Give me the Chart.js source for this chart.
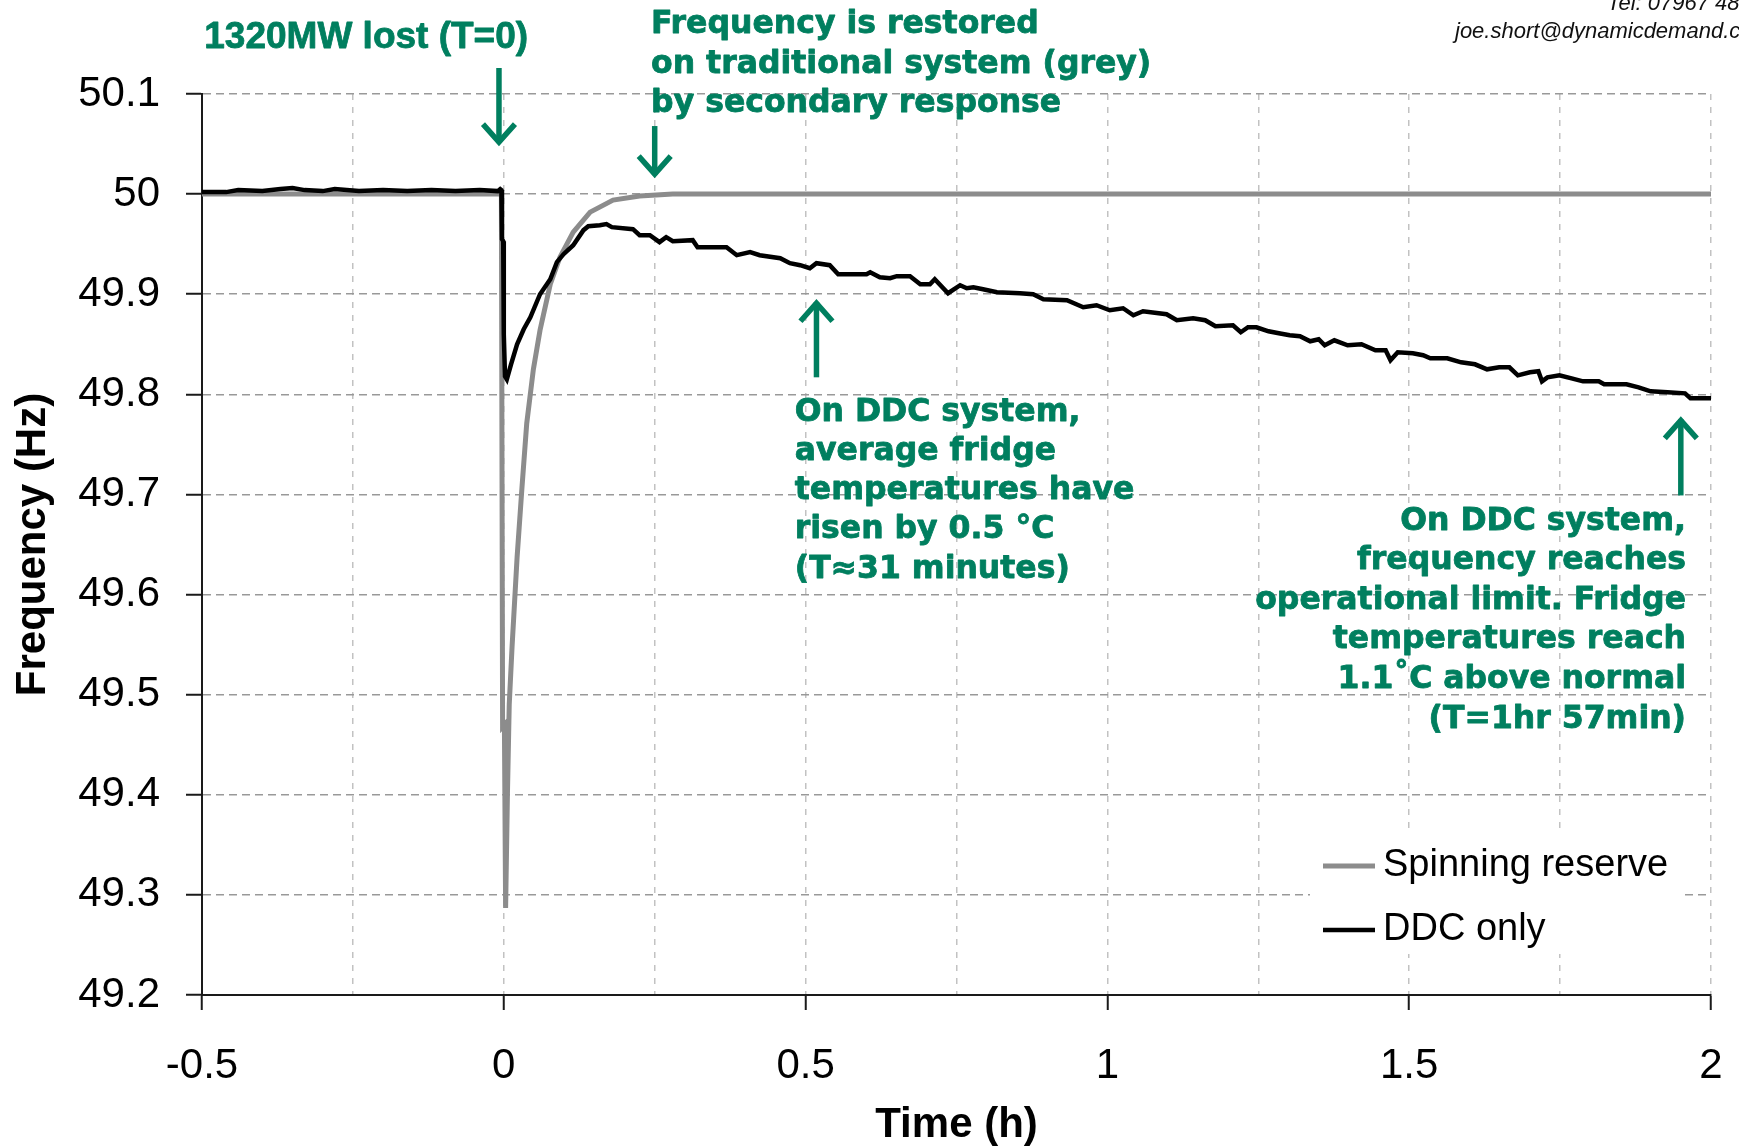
<!DOCTYPE html>
<html>
<head>
<meta charset="utf-8">
<title>Frequency after 1320MW loss</title>
<script src="https://cdn.jsdelivr.net/npm/chart.js"></script>
<style>
  html, body { margin: 0; padding: 0; background: #ffffff; }
  #freq-chart { display: block; }
</style>
</head>
<body>
<canvas id="freq-chart" width="1739" height="1146"></canvas>
<script>
// Spinning reserve (grey): time in hours, frequency in Hz
const spinTimes = [-0.5, -0.004, -0.002, 0.001, 0.003, 0.006, 0.009, 0.0137, 0.022, 0.030, 0.038,
  0.049, 0.060, 0.077, 0.093, 0.115, 0.143, 0.181, 0.225, 0.280, 2.0];
const spinFreq = [50.000, 50.000, 49.468, 49.470, 49.287, 49.400, 49.490, 49.548, 49.637, 49.706, 49.771,
  49.825, 49.864, 49.910, 49.937, 49.962, 49.982, 49.994, 49.998, 50.000, 50.000];

// DDC only (black)
const ddcTimes = [-0.5, -0.46, -0.44, -0.40, -0.37, -0.35, -0.33, -0.30, -0.28, -0.24, -0.20, -0.16,
  -0.12, -0.08, -0.04, -0.01, -0.006, -0.004, -0.003, -0.001, 0.000, 0.002, 0.005, 0.012, 0.022,
  0.033, 0.044, 0.060, 0.077, 0.088, 0.099, 0.115, 0.132, 0.140, 0.159, 0.170, 0.179, 0.214, 0.225,
  0.242, 0.258, 0.269, 0.280, 0.313, 0.321, 0.369, 0.386, 0.408, 0.424, 0.458, 0.474, 0.491, 0.507,
  0.518, 0.540, 0.554, 0.601, 0.607, 0.623, 0.640, 0.651, 0.673, 0.690, 0.706, 0.714, 0.736, 0.756,
  0.767, 0.778, 0.794, 0.817, 0.855, 0.877, 0.894, 0.933, 0.960, 0.982, 1.004, 1.026, 1.043, 1.059,
  1.098, 1.115, 1.142, 1.162, 1.179, 1.208, 1.221, 1.233, 1.247, 1.267, 1.284, 1.302, 1.319, 1.336,
  1.350, 1.360, 1.376, 1.398, 1.421, 1.444, 1.461, 1.469, 1.481, 1.506, 1.523, 1.535, 1.563, 1.586,
  1.609, 1.629, 1.649, 1.666, 1.680, 1.700, 1.714, 1.720, 1.729, 1.749, 1.769, 1.788, 1.814, 1.823,
  1.860, 1.880, 1.900, 1.928, 1.957, 1.966, 2.000];
const ddcFreq = [50.002, 50.002, 50.004, 50.003, 50.005, 50.006, 50.004, 50.003, 50.005, 50.003, 50.004, 50.003,
  50.004, 50.003, 50.004, 50.003, 50.005, 50.004, 49.955, 49.953, 49.860, 49.818, 49.815, 49.830, 49.850,
  49.865, 49.877, 49.900, 49.915, 49.932, 49.940, 49.949, 49.964, 49.968, 49.969, 49.970, 49.967, 49.965, 49.959,
  49.959, 49.952, 49.957, 49.953, 49.954, 49.947, 49.947, 49.939, 49.942, 49.939, 49.936, 49.931, 49.929, 49.926,
  49.931, 49.929, 49.920, 49.920, 49.922, 49.917, 49.916, 49.918, 49.918, 49.910, 49.910, 49.915, 49.901, 49.909,
  49.906, 49.907, 49.905, 49.902, 49.901, 49.900, 49.895, 49.894, 49.887, 49.889, 49.884, 49.886, 49.879, 49.883,
  49.880, 49.874, 49.876, 49.874, 49.868, 49.869, 49.862, 49.867, 49.867, 49.863, 49.861, 49.859, 49.858, 49.853,
  49.855, 49.849, 49.854, 49.849, 49.850, 49.844, 49.844, 49.834, 49.842, 49.841, 49.839, 49.836, 49.836, 49.832,
  49.830, 49.825, 49.827, 49.827, 49.819, 49.822, 49.823, 49.813, 49.817, 49.819, 49.816, 49.813, 49.813, 49.810,
  49.810, 49.807, 49.803, 49.802, 49.801, 49.796, 49.796];

// axis ticks
const xMajorTicks = [-0.5, 0, 0.5, 1, 1.5, 2];
const yTickValues = [49.2, 49.3, 49.4, 49.5, 49.6, 49.7, 49.8, 49.9, 50, 50.1];

const GREEN = '#007f5f';
const NOTE_FONT = 'bold 31.5px "DejaVu Sans"';

// callouts, anchored in data units (t = hours, f = Hz)
const noteBlocks = [
  { t: -0.228, f: 50.156, align: 'center', font: 'bold 37px "Liberation Sans"', lineHeight: 0,
    lines: ['1320MW lost (T=0)'] },
  { t: 0.244, f: 50.169, align: 'left', font: NOTE_FONT, lineHeight: 39.5,
    lines: ['Frequency is restored', 'on traditional system (grey)', 'by secondary response'] },
  { t: 0.482, f: 49.782, align: 'left', font: NOTE_FONT, lineHeight: 39.3,
    lines: ['On DDC system,', 'average fridge', 'temperatures have', 'risen by 0.5 \u00B0C', '(T\u224831 minutes)'] },
  { t: 1.9586, f: 49.673, align: 'right', font: NOTE_FONT, lineHeight: 39.6,
    lines: ['On DDC system,', 'frequency reaches', 'operational limit. Fridge', 'temperatures reach',
      '1.1\u02DAC above normal', '(T=1hr 57min)'] }
];

const arrowMarks = [
  { t: -0.008, from: 50.126, to: 50.049 },
  { t: 0.25, from: 50.068, to: 50.017 },
  { t: 0.518, from: 49.817, to: 49.894 },
  { t: 1.950, from: 49.699, to: 49.777 }
];

const toPoints = (xs, ys) => xs.map((x, i) => ({ x, y: ys[i] }));
const isMajor = v => xMajorTicks.some(m => Math.abs(m - v) < 1e-6);

const notesPlugin = {
  id: 'notes',
  afterDraw(chart) {
    const { ctx, scales: { x, y } } = chart;
    ctx.save();
    ctx.fillStyle = GREEN;
    ctx.strokeStyle = GREEN;
    ctx.lineJoin = 'round';

    noteBlocks.forEach(note => {
      ctx.font = note.font;
      ctx.textAlign = note.align;
      ctx.textBaseline = 'middle';
      ctx.lineWidth = 0.8;
      const px = x.getPixelForValue(note.t);
      let py = y.getPixelForValue(note.f);
      note.lines.forEach(line => {
        ctx.fillText(line, px, py);
        ctx.strokeText(line, px, py);
        py += note.lineHeight;
      });
    });

    ctx.lineWidth = 5.5;
    ctx.lineJoin = 'miter';
    arrowMarks.forEach(a => {
      const px = x.getPixelForValue(a.t);
      const y0 = y.getPixelForValue(a.from);
      const y1 = y.getPixelForValue(a.to);
      const dir = y1 > y0 ? 1 : -1;
      ctx.beginPath();
      ctx.moveTo(px, y0);
      ctx.lineTo(px, y1 - dir * 2);
      ctx.stroke();
      ctx.beginPath();
      ctx.moveTo(px - 16, y1 - dir * 21);
      ctx.lineTo(px, y1 - dir * 3);
      ctx.lineTo(px + 16, y1 - dir * 21);
      ctx.stroke();
    });
    ctx.restore();
  }
};

// legend drawn inside the plot on a white patch
const boxLegendPlugin = {
  id: 'boxLegend',
  afterDraw(chart) {
    const ctx = chart.ctx;
    ctx.save();
    ctx.fillStyle = '#ffffff';
    ctx.fillRect(1310, 834, 370, 120);
    ctx.font = '38px "Liberation Sans"';
    ctx.textAlign = 'left';
    ctx.textBaseline = 'middle';
    chart.data.datasets.forEach((ds, i) => {
      const ly = 866 + i * 64;
      ctx.strokeStyle = ds.borderColor;
      ctx.lineWidth = ds.borderWidth;
      ctx.beginPath();
      ctx.moveTo(1323, ly);
      ctx.lineTo(1375, ly);
      ctx.stroke();
      ctx.fillStyle = '#000';
      ctx.fillText(ds.label, 1383, ly);
    });
    ctx.restore();
  }
};

const contactPlugin = {
  id: 'contact',
  afterDraw(chart) {
    const ctx = chart.ctx;
    ctx.save();
    ctx.fillStyle = '#111';
    ctx.font = 'italic 22px "Liberation Sans"';
    ctx.textAlign = 'left';
    ctx.textBaseline = 'alphabetic';
    ctx.fillText('Tel: 07967 481', 1607, 10);
    ctx.fillText('joe.short@dynamicdemand.co.uk', 1455, 38);
    ctx.restore();
  }
};

Chart.defaults.font.family = '"Liberation Sans", Arial, sans-serif';
Chart.defaults.color = '#000';

new Chart(document.getElementById('freq-chart'), {
  type: 'line',
  data: {
    datasets: [
      {
        label: 'Spinning reserve',
        data: toPoints(spinTimes, spinFreq),
        borderColor: '#8c8c8c',
        borderWidth: 5,
        pointRadius: 0,
        tension: 0,
        order: 1
      },
      {
        label: 'DDC only',
        data: toPoints(ddcTimes, ddcFreq),
        borderColor: '#000000',
        borderWidth: 4.5,
        pointRadius: 0,
        tension: 0,
        order: 0
      }
    ]
  },
  options: {
    responsive: false,
    animation: false,
    devicePixelRatio: 1,
    layout: { padding: { top: 94, right: 28, left: 0, bottom: 0 } },
    plugins: {
      legend: { display: false },
      tooltip: { enabled: false }
    },
    scales: {
      x: {
        type: 'linear',
        min: -0.5,
        max: 2,
        afterFit(scale) {
          scale.height = 151;
          scale.paddingLeft = 0;
          scale.paddingRight = 0;
        },
        ticks: {
          stepSize: 0.25,
          autoSkip: false,
          maxRotation: 0,
          padding: 31,
          font: { size: 42 },
          callback: v => isMajor(v) ? String(+v.toFixed(2)) : ''
        },
        grid: {
          color: c => Math.abs(c.tick.value + 0.5) < 1e-6 ? 'rgba(0,0,0,0)' : '#c2c2c2',
          lineWidth: 1.5,
          tickLength: 15,
          tickWidth: 2,
          tickColor: c => isMajor(c.tick.value) ? '#1a1a1a' : 'rgba(0,0,0,0)'
        },
        border: { color: '#1a1a1a', width: 2, dash: [6, 7] },
        title: {
          display: true,
          text: 'Time (h)',
          font: { size: 42, weight: 'bold', lineHeight: 1.0 },
          padding: { top: 0, bottom: 0 }
        }
      },
      y: {
        type: 'linear',
        min: 49.2,
        max: 50.1,
        afterFit(scale) { scale.width = 202; },
        afterBuildTicks(scale) { scale.ticks = yTickValues.map(value => ({ value })); },
        ticks: {
          padding: 26,
          font: { size: 42 },
          callback: v => String(+v.toFixed(1))
        },
        grid: {
          color: c => Math.abs(c.tick.value - 49.2) < 1e-6 ? 'rgba(0,0,0,0)' : '#999999',
          lineWidth: 1.5,
          tickLength: 16,
          tickWidth: 2,
          tickColor: '#1a1a1a'
        },
        border: { color: '#1a1a1a', width: 2, dash: [8, 5] },
        title: {
          display: true,
          text: 'Frequency (Hz)',
          font: { size: 42, weight: 'bold' },
          padding: { top: 8, bottom: 0 }
        }
      }
    }
  },
  plugins: [notesPlugin, boxLegendPlugin, contactPlugin]
});
</script>
</body>
</html>
